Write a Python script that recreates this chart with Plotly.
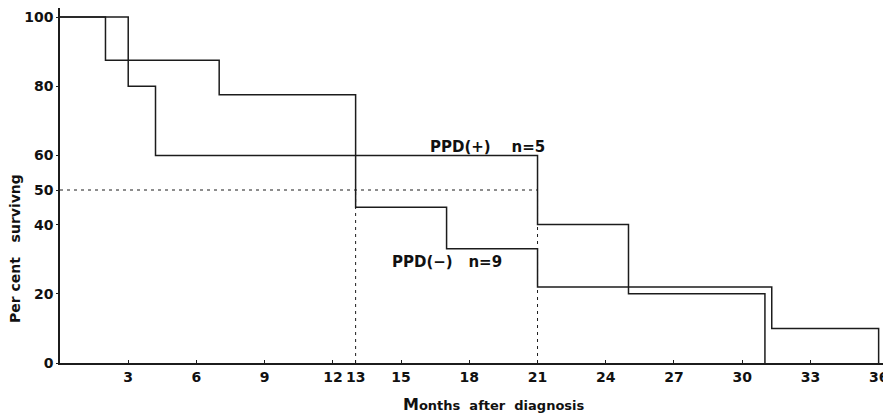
import plotly.graph_objects as go

# Kaplan-Meier style step data (months, per cent surviving)
plus_months = [0, 3, 4.2, 21, 25, 31]
plus_surv = [100, 80, 60, 40, 20, 0]

minus_months = [0, 2, 7, 13, 17, 21, 31.3, 36]
minus_surv = [100, 87.5, 77.5, 45, 33, 22, 10, 0]

median_level = 50
median_minus = 13
median_plus = 21

x_ticks = [3, 6, 9, 12, 13, 15, 18, 21, 24, 27, 30, 33, 36]
y_ticks = [0, 20, 40, 50, 60, 80, 100]

line_col = "#1c1c1c"


def step_xy(months, surv):
    xs, ys = [], []
    for i, (m, s) in enumerate(zip(months, surv)):
        if i > 0:
            xs.append(m)
            ys.append(surv[i - 1])
        xs.append(m)
        ys.append(s)
    return xs, ys


fig = go.Figure()

# median reference lines
fig.add_trace(go.Scatter(
    x=[0, median_plus, None, median_minus, median_minus, None, median_plus, median_plus],
    y=[median_level, median_level, None, 0, median_level, None, 0, median_level],
    mode="lines", line=dict(color=line_col, width=1, dash="3px,4px"),
    hoverinfo="skip", showlegend=False))

px, py = step_xy(plus_months, plus_surv)
fig.add_trace(go.Scatter(x=px, y=py, mode="lines", name="PPD(+)",
                         line=dict(color=line_col, width=1.5), showlegend=False))
mx, my = step_xy(minus_months, minus_surv)
fig.add_trace(go.Scatter(x=mx, y=my, mode="lines", name="PPD(−)",
                         line=dict(color=line_col, width=1.5), showlegend=False))

label_font = dict(family="DejaVu Sans", size=15, color="#111")
fig.add_annotation(x=18.8, y=62.4, text="<b>PPD(+)\u00a0\u00a0\u00a0\u00a0n=5</b>", showarrow=False,
                   font=label_font, xref="x", yref="y")
fig.add_annotation(x=17.0, y=29.2, text="<b>PPD(−)\u00a0\u00a0\u00a0n=9</b>", showarrow=False,
                   font=label_font, xref="x", yref="y")

# page offset (default body margin of the html page)
OFF = 8
title_font = dict(family="DejaVu Sans", size=13, color="#111")
fig.add_annotation(x=494 - OFF, y=404 - OFF, xref="paper", yref="paper",
                   xanchor="center", yanchor="middle",
                   text="<b><span style='font-size:16px'>M</span>onths\u00a0\u00a0after\u00a0\u00a0diagnosis</b>",
                   showarrow=False, font=title_font)
fig.add_annotation(x=15 - OFF, y=249 - OFF, xanchor="center", yanchor="middle",
                   text="<b>Per\u00a0cent\u00a0\u00a0\u00a0survivng</b>", showarrow=False,
                   textangle=-90, font=dict(family="DejaVu Sans", size=14, color="#111"),
                   xref="paper", yref="paper")

W, H = 891 - OFF, 419 - OFF
L, R, T, B = 60 - OFF, 1, 0, 56
pw, ph = W - L - R, H - T - B

# convert pixel-placed title annotations to paper coords
for a in fig.layout.annotations:
    if a.xref == "paper":
        a.x = (a.x - L) / pw
        a.y = (H - B - a.y) / ph

fig.update_layout(
    width=W, height=H,
    margin=dict(l=L, r=R, t=T, b=B, autoexpand=False),
    plot_bgcolor="white", paper_bgcolor="white",
    font=dict(family="DejaVu Sans", size=13, color="#111"),
    xaxis=dict(range=[0, 36.5], tickvals=x_ticks, ticktext=[str(v) for v in x_ticks],
               automargin=False,
               showgrid=False, zeroline=False, showline=True, linecolor=line_col, linewidth=1.5,
               ticks="inside", ticklen=3, tickcolor=line_col,
               tickfont=dict(family="DejaVu Sans", size=14, weight="bold", color="#111")),
    yaxis=dict(range=[0, 102.6], tickvals=y_ticks, ticktext=[str(v) for v in y_ticks],
               automargin=False,
               showgrid=False, zeroline=False, showline=True, linecolor=line_col, linewidth=1.5,
               ticks="outside", ticklen=2, tickcolor=line_col, ticklabelstandoff=0,
               tickfont=dict(family="DejaVu Sans", size=14, weight="bold", color="#111")),
)

fig.write_html("out.html")
